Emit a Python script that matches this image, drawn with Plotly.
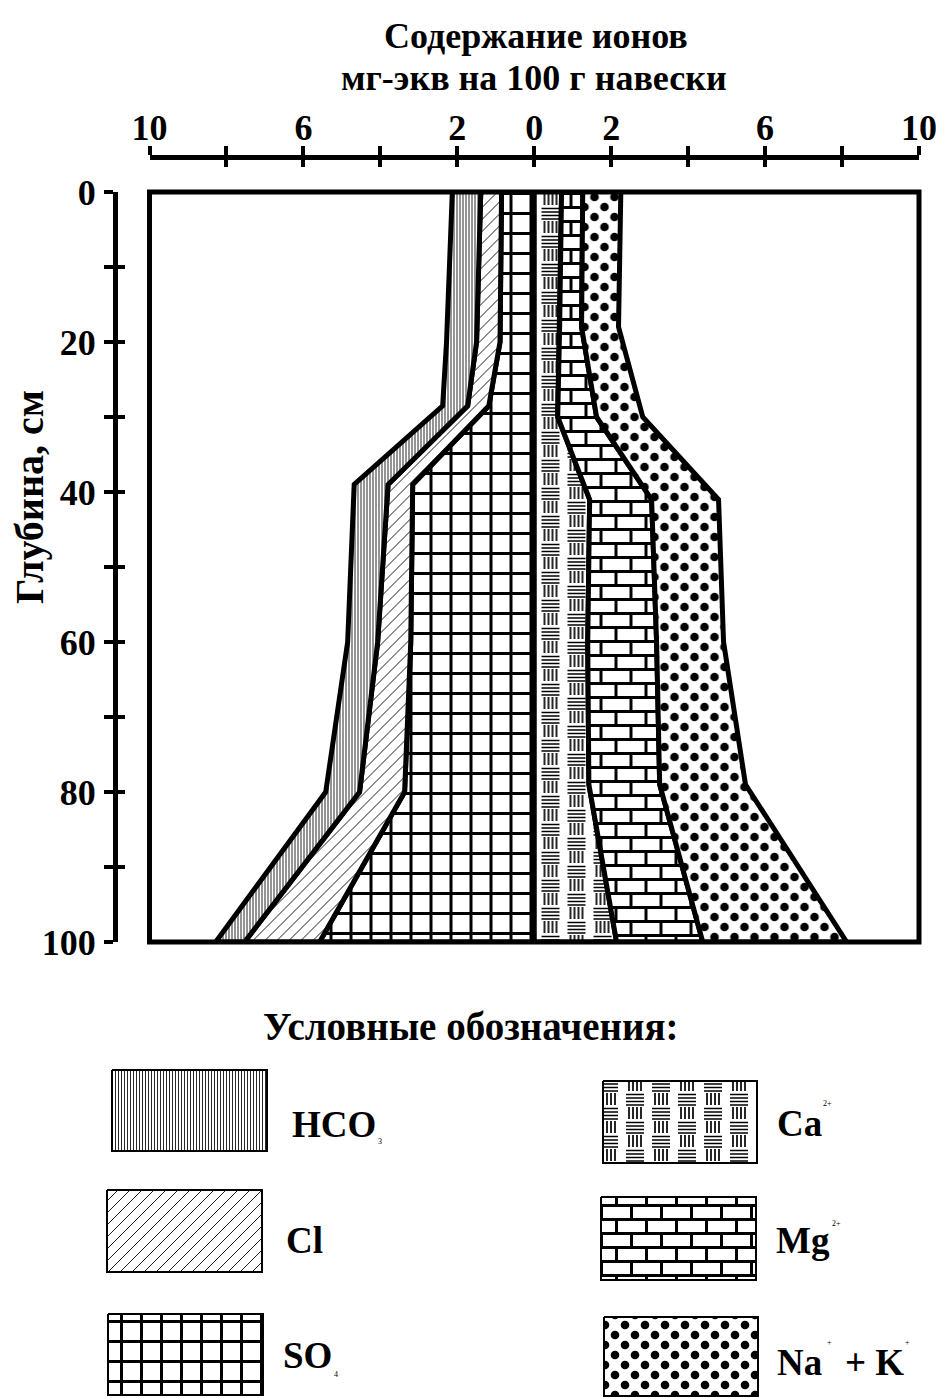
import plotly.graph_objects as go

W, H = 944, 1398
FONT = "Liberation Serif, Times New Roman, serif"

# ---------------- data (mg-eq per 100 g) ----------------
depth_anion = [0, 20, 28.5, 39, 60, 80, 100]
so4 = [0.85, 0.89, 1.18, 3.16, 3.21, 3.37, 5.58]
cl = [0.54, 0.61, 0.55, 0.64, 0.86, 1.17, 1.95]
hco3 = [0.74, 0.78, 0.65, 0.88, 0.78, 0.88, 0.75]

depth_cation = [0, 18, 30, 41, 60, 79, 100]
ca = [0.71, 0.66, 0.61, 1.44, 1.39, 1.42, 2.14]
mg = [0.55, 0.57, 1.01, 1.61, 1.79, 1.84, 2.24]
nak = [0.99, 0.96, 1.20, 1.74, 1.74, 2.23, 3.74]

x_label_vals = [-10, -6, -2, 0, 2, 6, 10]
x_label_text = ["10", "6", "2", "0", "2", "6", "10"]
x_minor_vals = [-8, -4, 4, 8]
x_all_vals = [-10, -8, -6, -4, -2, 0, 2, 4, 6, 8, 10]

y_label_vals = [0, 20, 40, 60, 80, 100]
y_label_text = ["0", "20", "40", "60", "80", "100"]
y_minor_vals = [10, 30, 50, 70, 90]
y_all_vals = [0, 10, 20, 30, 40, 50, 60, 70, 80, 90, 100]

title_lines = ["Содержание ионов", "мг-экв на 100 г навески"]
y_title = "Глубина, см"
legend_title = "Условные обозначения:"

# legend label pieces: (text, x, y in px)
legend_texts = [
    ("HCO", 290, 1124), ("Cl", 284, 1240), ("SO", 281, 1355),
    ("Ca", 775, 1123), ("Mg", 774, 1240), ("Na", 775, 1362), ("+ K", 843, 1362),
]
# tiny sub/superscripts as in the reference (index text, x, y in px)
legend_indices = [
    ("3", 380, 1141), ("4", 336, 1374),
    ("2+", 827, 1103), ("2+", 836, 1223),
    ("+", 829, 1342), ("+", 907, 1342),
]

# native fallback patterns (replaced by custom SVG tiles after rendering)
patterns = {
    "hco3": dict(shape="|", size=3, solidity=0.33, fgcolor="#222", bgcolor="white"),
    "cl": dict(shape="/", size=12, solidity=0.1, fgcolor="#222", bgcolor="white"),
    "so4": dict(shape="+", size=20, solidity=0.15, fgcolor="black", bgcolor="white"),
    "ca": dict(shape="-", size=6, solidity=0.25, fgcolor="black", bgcolor="white"),
    "mg": dict(shape="+", size=14, solidity=0.2, fgcolor="black", bgcolor="white"),
    "nak": dict(shape=".", size=14, solidity=0.3, fgcolor="black", bgcolor="white"),
}


def fx(px):
    return px / W


def fy(py):
    return 1 - py / H


fig = go.Figure()


def add_bands(depth, layers, sign):
    inner = [0.0] * len(depth)
    for key, vals in layers:
        outer = [i + v for i, v in zip(inner, vals)]
        xs = [sign * o for o in outer] + [sign * i for i in inner[::-1]]
        ys = list(depth) + list(depth[::-1])
        fig.add_trace(go.Scatter(
            x=xs, y=ys, mode="lines", fill="toself", uid=key,
            line=dict(color="black", width=5),
            fillpattern=patterns[key], fillcolor="white",
            hoverinfo="skip", showlegend=False,
        ))
        inner = outer


add_bands(depth_anion, [("so4", so4), ("cl", cl), ("hco3", hco3)], -1)
add_bands(depth_cation, [("ca", ca), ("mg", mg), ("nak", nak)], 1)

# invisible traces creating twin axes (second half of the crossing ticks)
fig.add_trace(go.Scatter(x=[0], y=[50], xaxis="x3", yaxis="y", mode="markers",
                         marker=dict(opacity=0), hoverinfo="skip", showlegend=False))
fig.add_trace(go.Scatter(x=[0], y=[50], xaxis="x", yaxis="y3", mode="markers",
                         marker=dict(opacity=0), hoverinfo="skip", showlegend=False))

# ---------------- legend swatches (pixel-space axes) ----------------
swatches = [
    ("hco3", 112, 1070, 267, 1151),
    ("cl", 107, 1190, 262, 1272),
    ("so4", 108, 1314, 263, 1395),
    ("ca", 603, 1081, 757, 1163),
    ("mg", 601, 1197, 756, 1280),
    ("nak", 604, 1317, 758, 1396),
]
for key, x0, y0, x1, y1 in swatches:
    fig.add_trace(go.Scatter(
        x=[x0, x1, x1, x0, x0], y=[y0, y0, y1, y1, y0], mode="lines",
        fill="toself", uid=key + "_l", xaxis="x2", yaxis="y2",
        line=dict(color="black", width=2), fillpattern=patterns[key],
        fillcolor="white", hoverinfo="skip", showlegend=False,
    ))

for txt, lx, ly in legend_texts:
    fig.add_annotation(x=lx, y=ly, xref="x2", yref="y2", text="<b>%s</b>" % txt,
                       showarrow=False, xanchor="left", yanchor="middle",
                       font=dict(family=FONT, size=37, color="black"))

for txt, ix, iy in legend_indices:
    fig.add_annotation(x=ix, y=iy, xref="x2", yref="y2", text=txt, showarrow=False,
                       xanchor="center", yanchor="middle", borderpad=0,
                       font=dict(family=FONT, size=8, color="black"))

tickfont = dict(family=FONT, size=36, color="black", weight="bold")
xdom = [fx(149.5), fx(919)]
ydom = [fy(942), fy(192)]
tick_common = dict(tickwidth=4, tickcolor="black", ticklen=9)

fig.update_layout(
    width=W, height=H, margin=dict(l=0, r=0, t=0, b=0, autoexpand=False),
    paper_bgcolor="white", plot_bgcolor="rgba(0,0,0,0)",
    showlegend=False,
    xaxis=dict(domain=xdom, range=[-10, 10], anchor="free", position=fy(157), side="top",
               showline=True, linewidth=5, linecolor="black", ticks="outside",
               tickvals=x_label_vals, ticktext=x_label_text, tickfont=tickfont,
               ticklabelstandoff=-8,
               minor=dict(tickvals=x_minor_vals, ticks="outside", showgrid=False, **tick_common),
               showgrid=False, zeroline=False, fixedrange=True, automargin=False, **tick_common),
    xaxis3=dict(overlaying="x", range=[-10, 10], anchor="free", position=fy(157), side="top",
                showline=False, ticks="inside", tickvals=x_all_vals, showticklabels=False,
                showgrid=False, zeroline=False, fixedrange=True, automargin=False, **tick_common),
    yaxis=dict(domain=ydom, range=[100, 0], anchor="free", position=fx(115), side="left",
               showline=True, linewidth=5, linecolor="black", ticks="outside",
               tickvals=y_label_vals, ticktext=y_label_text, tickfont=tickfont,
               ticklabelstandoff=1,
               minor=dict(tickvals=y_minor_vals, ticks="outside", showgrid=False, **tick_common),
               showgrid=False, zeroline=False, fixedrange=True, automargin=False, **tick_common),
    yaxis3=dict(overlaying="y", range=[100, 0], anchor="free", position=fx(115), side="left",
                showline=False, ticks="inside", tickvals=y_all_vals, showticklabels=False,
                showgrid=False, zeroline=False, fixedrange=True, automargin=False, **tick_common),
    xaxis2=dict(domain=[0, 1], range=[0, W], anchor="y2", visible=False, fixedrange=True),
    yaxis2=dict(domain=[0, 1], range=[H, 0], anchor="x2", visible=False, fixedrange=True),
    shapes=[dict(type="rect", xref="x domain", yref="y domain", x0=0, x1=1, y0=0, y1=1,
                 line=dict(color="black", width=5), layer="above")],
)

fig.add_annotation(x=fx(536), y=fy(36), xref="paper", yref="paper", text="<b>%s</b>" % title_lines[0],
                   showarrow=False, xanchor="center", yanchor="middle",
                   font=dict(family=FONT, size=36, color="black"))
fig.add_annotation(x=fx(534), y=fy(78), xref="paper", yref="paper", text="<b>%s</b>" % title_lines[1],
                   showarrow=False, xanchor="center", yanchor="middle",
                   font=dict(family=FONT, size=36, color="black"))
fig.add_annotation(x=fx(29), y=fy(497), xref="paper", yref="paper", text="<b>%s</b>" % y_title,
                   showarrow=False, xanchor="center", yanchor="middle", textangle=-90,
                   font=dict(family=FONT, size=40, color="black"))
fig.add_annotation(x=fx(471), y=fy(1026), xref="paper", yref="paper", text="<b>%s</b>" % legend_title,
                   showarrow=False, xanchor="center", yanchor="middle",
                   font=dict(family=FONT, size=39, color="black"))

post_js = r"""
document.documentElement.style.margin = '0';
document.documentElement.style.padding = '0';
document.documentElement.style.overflow = 'hidden';
document.body.style.margin = '0';
document.body.style.padding = '0';
document.body.style.overflow = 'hidden';
var gd = document.getElementById('{plot_id}');
var custom = {
  hco3: {w: 3, h: 12, svg: '<rect width="3" height="12" fill="#fff"/>' +
      '<path d="M1.5,0V12" stroke="#2a2a2a" stroke-width="1" fill="none"/>'},
  cl: {w: 12, h: 12, svg: '<rect width="12" height="12" fill="#fff"/>' +
      '<path d="M-3,3L3,-3M0,12L12,0M9,15L15,9" stroke="#222" stroke-width="1" fill="none"/>'},
  so4: {w: 20, h: 20, svg: '<rect width="20" height="20" fill="#fff"/>' +
      '<path d="M0,1.5H20M1.5,0V20" stroke="#000" stroke-width="3" fill="none"/>'},
  ca: {w: 52, h: 28, svg: '<rect width="52" height="28" fill="#fff"/>' +
      '<path d="M2,2.5H20M2,6H20M2,9.5H20M2,13H20M31,1V13M35,1V13M39,1V13M43,1V13' +
      'M5,15V27M9,15V27M13,15V27M17,15V27M28,16.5H46M28,20H46M28,23.5H46M28,27H46" ' +
      'stroke="#000" stroke-width="1.7" fill="none"/>'},
  mg: {w: 30, h: 28, svg: '<rect width="30" height="28" fill="#fff"/>' +
      '<path d="M0,1.5H30M0,15.5H30M1.5,0V15.5M16.5,15.5V28" stroke="#000" stroke-width="3" fill="none"/>'},
  nak: {w: 20, h: 20, svg: '<rect width="20" height="20" fill="#fff"/>' +
      '<circle cx="5" cy="5" r="4.3" fill="#000"/><circle cx="15" cy="15" r="4.3" fill="#000"/>'}
};
function applyPatterns() {
  var groups = gd.querySelectorAll('g.trace');
  for (var i = 0; i < groups.length; i++) {
    var g = groups[i];
    var cd = g.__data__;
    var tr = cd && cd[0] && cd[0].trace;
    if (!tr || !tr.uid) continue;
    var key = String(tr.uid).replace(/_l$/, '');
    var c = custom[key];
    if (!c) continue;
    var fill = g.querySelector('path.js-fill');
    if (!fill) continue;
    var f = fill.style.fill || fill.getAttribute('fill') || '';
    var m = f.match(/#([^"')\s]+)/);
    if (!m) continue;
    var pat = document.getElementById(m[1]);
    if (!pat) continue;
    pat.setAttribute('width', c.w);
    pat.setAttribute('height', c.h);
    pat.innerHTML = c.svg;
  }
}
applyPatterns();
"""

fig.write_html("out.html", post_script=post_js, config={"staticPlot": True})
